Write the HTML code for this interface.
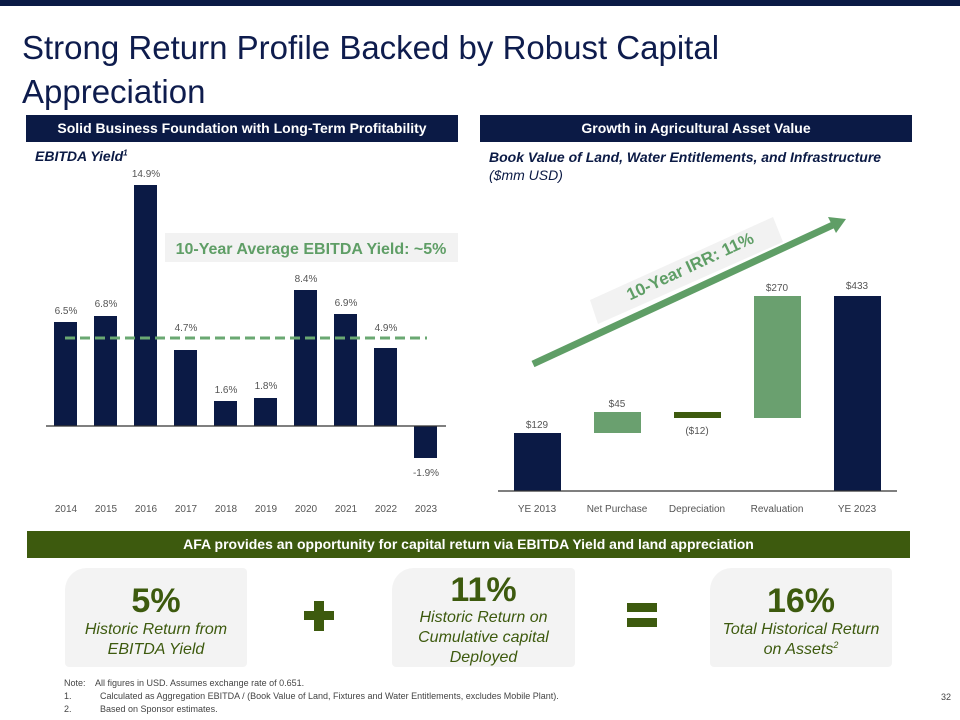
<!DOCTYPE html>
<html><head><meta charset="utf-8"><style>
body{margin:0;width:960px;height:720px;position:relative;background:#fff;font-family:"Liberation Sans",sans-serif;overflow:hidden}
.a{position:absolute}
.hdr{position:absolute;background:#0b1a45;color:#fff;font-weight:bold;font-size:14px;text-align:center;line-height:27px}
.bx{position:absolute;background:#f3f3f3;border-radius:22px 4px 4px 4px;text-align:center;color:#3d5a0e;font-style:italic}
.big{font-style:normal;font-weight:bold;font-size:34px}
</style></head><body>
<div class="a" style="left:0;top:0;width:960px;height:6px;background:#0b1a45"></div>
<div class="a" style="left:22px;top:26px;font-size:33px;line-height:44px;color:#0e1c4d">Strong Return Profile Backed by Robust Capital<br>Appreciation</div>
<div class="hdr" style="left:26px;top:115px;width:432px">Solid Business Foundation with Long-Term Profitability</div>
<div class="hdr" style="left:480px;top:115px;width:432px">Growth in Agricultural Asset Value</div>
<div class="a" style="left:35px;top:148px;font-size:14px;font-weight:bold;font-style:italic;color:#0b1a45">EBITDA Yield<sup style="font-size:8px">1</sup></div>
<div class="a" style="left:489px;top:148px;font-size:14px;font-style:italic;color:#0b1a45;line-height:18px"><b>Book Value of Land, Water Entitlements, and Infrastructure</b><br>($mm USD)</div>
<svg class="a" style="left:0;top:0" width="960" height="720" font-family="Liberation Sans, sans-serif">
<rect x="165" y="233" width="293" height="29" fill="#f2f2f2"/>
<text x="311" y="254" text-anchor="middle" font-size="16" font-weight="bold" fill="#5f9e66">10-Year Average EBITDA Yield: ~5%</text>
<g fill="#0b1a45">
<rect x="54" y="322" width="23" height="104"/><rect x="94" y="316" width="23" height="110"/>
<rect x="134" y="185" width="23" height="241"/><rect x="174" y="350" width="23" height="76"/>
<rect x="214" y="401" width="23" height="25"/><rect x="254" y="398" width="23" height="28"/>
<rect x="294" y="290" width="23" height="136"/><rect x="334" y="314" width="23" height="112"/>
<rect x="374" y="348" width="23" height="78"/><rect x="414" y="426" width="23" height="32"/>
</g>
<line x1="46" y1="426" x2="446" y2="426" stroke="#333" stroke-width="1.2"/>
<line x1="65" y1="338" x2="427" y2="338" stroke="#6aa872" stroke-width="3" stroke-dasharray="10,5"/>
<g font-size="10" fill="#555" text-anchor="middle">
<text x="66" y="314">6.5%</text><text x="106" y="307">6.8%</text><text x="146" y="177">14.9%</text>
<text x="186" y="331">4.7%</text><text x="226" y="393">1.6%</text><text x="266" y="389">1.8%</text>
<text x="306" y="282">8.4%</text><text x="346" y="306">6.9%</text><text x="386" y="331">4.9%</text>
<text x="426" y="476">-1.9%</text>
<text x="66" y="512">2014</text><text x="106" y="512">2015</text><text x="146" y="512">2016</text><text x="186" y="512">2017</text><text x="226" y="512">2018</text><text x="266" y="512">2019</text><text x="306" y="512">2020</text><text x="346" y="512">2021</text><text x="386" y="512">2022</text><text x="426" y="512">2023</text>
<text x="537" y="512">YE 2013</text><text x="617" y="512">Net Purchase</text><text x="697" y="512">Depreciation</text><text x="777" y="512">Revaluation</text><text x="857" y="512">YE 2023</text>
<text x="537" y="428">$129</text><text x="617" y="407">$45</text><text x="697" y="434">($12)</text><text x="777" y="291">$270</text><text x="857" y="289">$433</text>
</g>
<polygon points="590,300 773,217 783,242 598,324" fill="#f2f2f2"/>
<rect x="514" y="433" width="47" height="58" fill="#0b1a45"/>
<rect x="594" y="412" width="47" height="21" fill="#6aa06f"/>
<rect x="674" y="412" width="47" height="6" fill="#3d5a0e"/>
<rect x="754" y="296" width="47" height="122" fill="#6aa06f"/>
<rect x="834" y="296" width="47" height="195" fill="#0b1a45"/>
<line x1="498" y1="491" x2="897" y2="491" stroke="#333" stroke-width="1.2"/>
<line x1="533" y1="364" x2="835" y2="224" stroke="#5f9e66" stroke-width="7"/>
<polygon points="846,219 828,217 836,233" fill="#5f9e66"/>
<text x="690" y="272" text-anchor="middle" font-size="17" font-weight="bold" fill="#5f9e66" transform="rotate(-25 690 266)">10-Year IRR: 11%</text>
</svg>
<div class="a" style="left:27px;top:531px;width:883px;height:27px;background:#3d5a0e;color:#fff;font-weight:bold;font-size:14px;text-align:center;line-height:27px">AFA provides an opportunity for capital return via EBITDA Yield and land appreciation</div>
<div class="bx" style="left:65px;top:568px;width:182px;height:99px;font-size:16px;line-height:20px"><div class="big" style="margin-top:14px;line-height:38px">5%</div>Historic Return from<br>EBITDA Yield</div>
<div class="bx" style="left:392px;top:568px;width:183px;height:99px;font-size:16px;line-height:20px"><div class="big" style="margin-top:4px;line-height:36px">11%</div>Historic Return on<br>Cumulative capital<br>Deployed</div>
<div class="bx" style="left:710px;top:568px;width:182px;height:99px;font-size:16px;line-height:20px"><div class="big" style="margin-top:14px;line-height:38px">16%</div>Total Historical Return<br>on Assets<span style="font-size:9px;vertical-align:6px;line-height:0">2</span></div>
<div class="a" style="left:304px;top:611px;width:30px;height:9px;background:#3d5a0e"></div>
<div class="a" style="left:314px;top:601px;width:10px;height:30px;background:#3d5a0e"></div>
<div class="a" style="left:627px;top:603px;width:30px;height:9px;background:#3d5a0e"></div>
<div class="a" style="left:627px;top:618px;width:30px;height:9px;background:#3d5a0e"></div>
<div class="a" style="left:64px;top:677px;font-size:9px;line-height:13px;color:#444">
<div>Note:&nbsp;&nbsp;&nbsp; All figures in USD. Assumes exchange rate of 0.651.</div>
<div><span style="display:inline-block;width:36px">1.</span>Calculated as Aggregation EBITDA / (Book Value of Land, Fixtures and Water Entitlements, excludes Mobile Plant).</div>
<div><span style="display:inline-block;width:36px">2.</span>Based on Sponsor estimates.</div></div>
<div class="a" style="left:941px;top:692px;font-size:9px;color:#444">32</div>
</body></html>
